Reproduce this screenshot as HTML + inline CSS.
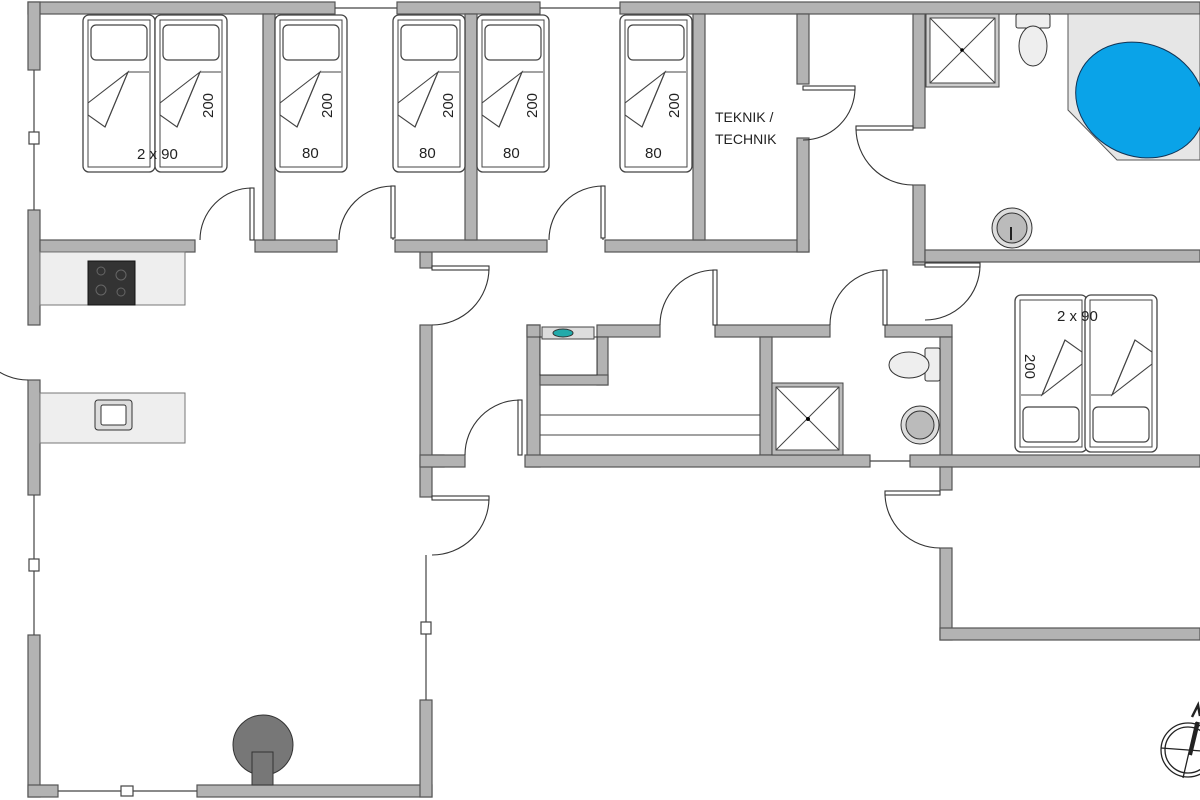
<!DOCTYPE html>
<html><head><meta charset="utf-8"><style>
html,body{margin:0;padding:0;background:#fff;}
svg{display:block;}
text{font-family:"Liberation Sans",sans-serif;fill:#222;}
</style></head><body>
<svg width="1200" height="800" viewBox="0 0 1200 800" xmlns="http://www.w3.org/2000/svg">
<defs>
<g id="bed">
 <rect x="0" y="0" width="72" height="157" rx="6" fill="#fff" stroke="#444" stroke-width="1.3"/>
 <rect x="5" y="5" width="62" height="147" fill="none" stroke="#444" stroke-width="1"/>
 <rect x="8" y="10" width="56" height="35" rx="5" fill="#fff" stroke="#444" stroke-width="1.2"/>
 <path d="M45 57 L66 57 M45 57 L5 88 L5 100 L22 112 Z" fill="#fff" stroke="#444" stroke-width="1.1"/>
 <path d="M45 57 L22 112" stroke="#444" fill="none" stroke-width="1.1"/>
</g>
</defs>
<g fill="#b3b3b3" stroke="#555" stroke-width="1.2">
 <!-- top wall -->
 <rect x="28" y="2" width="307" height="12"/>
 <rect x="397" y="2" width="143" height="12"/>
 <rect x="620" y="2" width="580" height="12"/>
 <!-- left wall -->
 <rect x="28" y="2" width="12" height="68"/>
 <rect x="28" y="210" width="12" height="115"/>
 <rect x="28" y="380" width="12" height="115"/>
 <rect x="28" y="635" width="12" height="162"/>
 <!-- bottom -->
 <rect x="28" y="785" width="30" height="12"/>
 <rect x="197" y="785" width="235" height="12"/>
 <!-- living right wall -->
 <rect x="420" y="252" width="12" height="16"/>
 <rect x="420" y="325" width="12" height="172"/>
 <rect x="420" y="555" width="12" height="0"/>
 <rect x="420" y="700" width="12" height="97"/>
 <!-- bedroom row bottom wall -->
 <rect x="40" y="240" width="155" height="12"/>
 <rect x="255" y="240" width="82" height="12"/>
 <rect x="395" y="240" width="152" height="12"/>
 <rect x="605" y="240" width="204" height="12"/>
 <!-- vertical room walls -->
 <rect x="263" y="14" width="12" height="226"/>
 <rect x="465" y="14" width="12" height="226"/>
 <rect x="693" y="14" width="12" height="226"/>
 <rect x="797" y="14" width="12" height="70"/>
 <rect x="797" y="138" width="12" height="114"/>
 <!-- bathroom -->
 <rect x="913" y="14" width="12" height="114"/>
 <rect x="913" y="185" width="12" height="77"/>
 <rect x="925" y="250" width="275" height="12"/>
 <rect x="913" y="262" width="12" height="3"/>
 <!-- inner block -->
 <rect x="527" y="325" width="13" height="142"/>
 <rect x="527" y="325" width="13" height="12"/>
 <rect x="597" y="325" width="63" height="12"/>
 <rect x="715" y="325" width="115" height="12"/>
 <rect x="885" y="325" width="67" height="12"/>
 <rect x="597" y="337" width="11" height="48"/>
 <rect x="540" y="375" width="68" height="10"/>
 <rect x="760" y="337" width="12" height="118"/>
 <rect x="940" y="337" width="12" height="118"/>
 <!-- corridor bottom wall -->
 <rect x="432" y="455" width="12" height="12"/>
 <rect x="420" y="455" width="45" height="12"/>
 <rect x="525" y="455" width="345" height="12"/>
 <rect x="910" y="455" width="290" height="12"/>
 <!-- lower right room -->
 <rect x="940" y="467" width="12" height="23"/>
 <rect x="940" y="548" width="12" height="92"/>
 <rect x="940" y="628" width="260" height="12"/>
</g>
<!-- windows -->
<g stroke="#444" stroke-width="1.2" fill="#fff">
 <line x1="34" y1="70" x2="34" y2="210"/>
 <rect x="29" y="132" width="10" height="12"/>
 <line x1="34" y1="495" x2="34" y2="635"/>
 <rect x="29" y="559" width="10" height="12"/>
 <line x1="58" y1="791" x2="197" y2="791"/>
 <rect x="121" y="786" width="12" height="10"/>
 <line x1="426" y1="555" x2="426" y2="700"/>
 <rect x="421" y="622" width="10" height="12"/>
 <line x1="335" y1="8" x2="397" y2="8"/>
 <line x1="540" y1="8" x2="620" y2="8"/>
 <line x1="870" y1="461" x2="910" y2="461"/>
</g>
<!-- doors -->
<g fill="none" stroke="#333" stroke-width="1.1">
 <path d="M200 240 A52 52 0 0 1 252 188 L252 240"/><rect x="250" y="188" width="4" height="52" fill="#fff"/>
 <path d="M339 240 A54 54 0 0 1 393 186 L393 240"/><rect x="391" y="186" width="4" height="52" fill="#fff"/>
 <path d="M549 240 A54 54 0 0 1 603 186 L603 240"/><rect x="601" y="186" width="4" height="52" fill="#fff"/>
 <path d="M803 140 A52 52 0 0 0 855 88 L803 88"/><rect x="803" y="86" width="52" height="4" fill="#fff"/>
 <path d="M913 185 A57 57 0 0 1 856 128 L913 128"/><rect x="856" y="126" width="57" height="4" fill="#fff"/>
 <path d="M925 320 A55 55 0 0 0 980 265 L925 265"/><rect x="925" y="263" width="55" height="4" fill="#fff"/>
 <path d="M432 325 A57 57 0 0 0 489 268 L432 268"/><rect x="432" y="266" width="57" height="4" fill="#fff"/>
 <path d="M432 555 A57 57 0 0 0 489 498 L432 498"/><rect x="432" y="496" width="57" height="4" fill="#fff"/>
 <path d="M465 455 A55 55 0 0 1 520 400 L520 455"/><rect x="518" y="400" width="4" height="55" fill="#fff"/>
 <path d="M660 325 A55 55 0 0 1 715 270 L715 325"/><rect x="713" y="270" width="4" height="55" fill="#fff"/>
 <path d="M830 325 A55 55 0 0 1 885 270 L885 325"/><rect x="883" y="270" width="4" height="55" fill="#fff"/>
 <path d="M940 548 A55 55 0 0 1 885 493 L940 493"/><rect x="885" y="491" width="55" height="4" fill="#fff"/>
 <path d="M28 380 A55 55 0 0 1 -27 325"/>
</g>
<!-- beds -->
<use href="#bed" x="83" y="15"/>
<use href="#bed" x="155" y="15"/>
<use href="#bed" x="275" y="15"/>
<use href="#bed" x="393" y="15"/>
<use href="#bed" x="477" y="15"/>
<use href="#bed" x="620" y="15"/>
<use href="#bed" transform="translate(1087 452) rotate(180)"/>
<use href="#bed" transform="translate(1157 452) rotate(180)"/>
<g font-size="15">
 <text x="137" y="159">2 x 90</text>
 <text x="302" y="158">80</text>
 <text x="419" y="158">80</text>
 <text x="503" y="158">80</text>
 <text x="645" y="158">80</text>
 <text x="1057" y="321">2 x 90</text>
 <text transform="translate(213 118) rotate(-90)">200</text>
 <text transform="translate(332 118) rotate(-90)">200</text>
 <text transform="translate(453 118) rotate(-90)">200</text>
 <text transform="translate(537 118) rotate(-90)">200</text>
 <text transform="translate(679 118) rotate(-90)">200</text>
 <text transform="translate(1025 354) rotate(90)">200</text>
 <text x="715" y="122" font-size="14">TEKNIK /</text>
 <text x="715" y="144" font-size="14">TECHNIK</text>
</g>
<!-- kitchen -->
<rect x="40" y="252" width="145" height="53" fill="#eee" stroke="#777"/>
<rect x="88" y="261" width="47" height="44" fill="#333" stroke="#111"/>
<g fill="none" stroke="#666"><circle cx="101" cy="271" r="4"/><circle cx="121" cy="275" r="5"/><circle cx="101" cy="290" r="5"/><circle cx="121" cy="292" r="4"/></g>
<rect x="40" y="393" width="145" height="50" fill="#eee" stroke="#777"/>
<rect x="95" y="400" width="37" height="30" rx="3" fill="#ddd" stroke="#333"/>
<rect x="101" y="405" width="25" height="20" rx="2" fill="#fff" stroke="#333"/>
<!-- stove -->
<circle cx="263" cy="745" r="30" fill="#777" stroke="#333"/>
<rect x="252" y="752" width="21" height="33" fill="#777" stroke="#333"/>
<!-- bathroom top right -->
<rect x="926" y="14" width="73" height="73" fill="#ccc" stroke="#444"/>
<rect x="930" y="18" width="65" height="65" fill="#fff" stroke="#444"/>
<path d="M930 18 L995 83 M995 18 L930 83" stroke="#444"/>
<circle cx="962" cy="50" r="1.8" fill="#000"/>
<rect x="1016" y="14" width="34" height="14" rx="2" fill="#eee" stroke="#333"/>
<ellipse cx="1033" cy="46" rx="14" ry="20" fill="#eee" stroke="#333"/>
<path d="M1068 14 L1200 14 L1200 160 L1117 160 L1068 110 Z" fill="#e6e6e6" stroke="#555"/>
<ellipse cx="1140" cy="100" rx="66" ry="56" transform="rotate(25 1140 100)" fill="#0aa3e8" stroke="#135"/>
<circle cx="1012" cy="228" r="20" fill="#ddd" stroke="#333"/>
<circle cx="1012" cy="228" r="15" fill="#bbb" stroke="#333"/>
<line x1="1011" y1="227" x2="1011" y2="240" stroke="#222" stroke-width="2"/>
<!-- inner block fixtures -->
<rect x="540" y="337" width="57" height="38" fill="#fff" stroke="#333"/>
<rect x="542" y="327" width="52" height="12" fill="#ddd" stroke="#444"/>
<ellipse cx="563" cy="333" rx="10" ry="4" fill="#2aa" stroke="#333"/>
<line x1="540" y1="415" x2="760" y2="415" stroke="#444"/>
<line x1="540" y1="435" x2="760" y2="435" stroke="#444"/>
<rect x="772" y="383" width="71" height="72" fill="#bbb" stroke="#444"/>
<rect x="776" y="387" width="63" height="63" fill="#fff" stroke="#444"/>
<path d="M776 387 L839 450 M839 387 L776 450" stroke="#444"/>
<circle cx="808" cy="419" r="2" fill="#000"/>
<rect x="925" y="348" width="15" height="33" rx="2" fill="#eee" stroke="#333"/>
<ellipse cx="909" cy="365" rx="20" ry="13" fill="#eee" stroke="#333"/>
<circle cx="920" cy="425" r="19" fill="#ddd" stroke="#333"/>
<circle cx="920" cy="425" r="14" fill="#bbb" stroke="#333"/>
<!-- compass -->
<g fill="none" stroke="#222" stroke-width="1.3">
 <circle cx="1188" cy="750" r="27"/><circle cx="1188" cy="750" r="23"/>
 <line x1="1161" y1="748" x2="1215" y2="752"/>
 <line x1="1183" y1="778" x2="1196" y2="722"/>
 <path d="M1192 717 L1198 705 L1200 716" stroke-width="2.5"/>
 <line x1="1190" y1="755" x2="1198" y2="722" stroke-width="4"/>
</g>
</svg>
</body></html>
